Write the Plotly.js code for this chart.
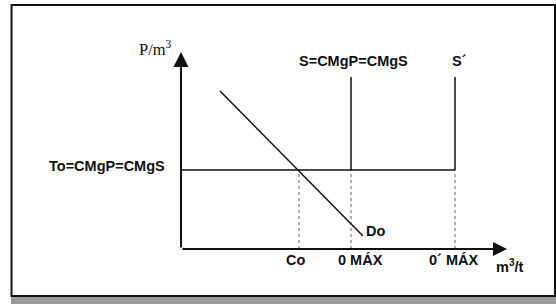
<!DOCTYPE html>
<html>
<head>
<meta charset="utf-8">
<script src="https://cdn.plot.ly/plotly-3.0.1.min.js"></script>
<style>html,body{margin:0;padding:0;background:#fff;}#chart{width:556px;height:304px;}</style>
</head>
<body>
<div id="chart"></div>
<script>
// ---- data ----
var qLabels = ['Co', '0 MÁX', '0´ MÁX'];
var qValues = [11.8, 17.0, 27.4];      // quantity positions
var tariff = 7.9;                        // To = CMgP = CMgS price level
var supplyTop = 17.2;                    // top of vertical supply lines
var demandQ = [3.9, 18.2];
var demandP = [15.8, 1.3];
var qAxisMax = 32.6;
var pAxisMax = 19.7;
var supplyLabels = ['S=CMgP=CMgS', 'S´'];
var tariffLabel = 'To=CMgP=CMgS';
var demandLabel = 'Do';
var yTitle = 'P/m<sup>3</sup>';
var xTitle = 'm<sup>3</sup>/t';

var ink = '#111111';
var boldFont = {family: 'Liberation Sans, Arial, sans-serif', size: 14.5, color: ink, weight: 'bold'};

var traces = [];
// dotted drop lines
qValues.forEach(function (q) {
  traces.push({x: [q, q], y: [0, tariff], mode: 'lines', line: {color: '#666', width: 1, dash: 'dot'}, hoverinfo: 'skip'});
});
// horizontal To line
traces.push({x: [0, qValues[2]], y: [tariff, tariff], mode: 'lines', line: {color: ink, width: 1.5}, hoverinfo: 'skip'});
// vertical supply lines S and S'
[qValues[1], qValues[2]].forEach(function (q) {
  traces.push({x: [q, q], y: [tariff, supplyTop], mode: 'lines', line: {color: ink, width: 1.5}, hoverinfo: 'skip'});
});
// demand
traces.push({x: demandQ, y: demandP, mode: 'lines', line: {color: ink, width: 1.5}, hoverinfo: 'skip'});

var annotations = [
  // axes with arrowheads
  {x: 0, y: pAxisMax, ax: 0, ay: 0, xref: 'x', yref: 'y', axref: 'x', ayref: 'y', text: '', showarrow: true, arrowhead: 2, arrowsize: 1.5, arrowwidth: 2, arrowcolor: ink, standoff: 0, startstandoff: 0},
  {x: qAxisMax, y: 0, ax: 0, ay: 0, xref: 'x', yref: 'y', axref: 'x', ayref: 'y', text: '', showarrow: true, arrowhead: 2, arrowsize: 1.4, arrowwidth: 2, arrowcolor: ink, standoff: 0, startstandoff: 0},
  // texts
  {x: -0.7, y: 20.1, text: yTitle, showarrow: false, xanchor: 'right', yanchor: 'middle', font: {family: 'Liberation Serif, Times New Roman, serif', size: 16.5, color: ink}},
  {x: 31.3, y: -1.7, text: xTitle, showarrow: false, xanchor: 'left', yanchor: 'middle', font: boldFont},
  {x: 17.2, y: 18.8, text: supplyLabels[0], showarrow: false, xanchor: 'center', yanchor: 'middle', font: boldFont},
  {x: 26.9, y: 18.8, text: supplyLabels[1], showarrow: false, xanchor: 'left', yanchor: 'middle', font: boldFont},
  {x: -1.4, y: 8.3, text: tariffLabel, showarrow: false, xanchor: 'right', yanchor: 'middle', font: boldFont},
  {x: 18.3, y: 1.8, text: demandLabel, showarrow: false, xanchor: 'left', yanchor: 'middle', font: boldFont}
];
var qLabelX = [11.4, 17.9, 27.2];
qLabels.forEach(function (t, i) {
  annotations.push({x: qLabelX[i], y: -1.05, text: t, showarrow: false, xanchor: 'center', yanchor: 'middle', font: boldFont});
});

var layout = {
  width: 556, height: 304,
  margin: {l: 0, r: 0, t: 0, b: 0},
  paper_bgcolor: '#ffffff', plot_bgcolor: 'rgba(0,0,0,0)',
  showlegend: false,
  xaxis: {range: [-18.1, 37.5], visible: false, fixedrange: true},
  yaxis: {range: [-5.5, 24.9], visible: false, fixedrange: true},
  annotations: annotations,
  shapes: [
    {type: 'rect', xref: 'paper', yref: 'paper', x0: 11 / 556, x1: 1, y0: 0, y1: 7 / 304, fillcolor: '#9a9a9a', line: {width: 0}, layer: 'below'},
    {type: 'rect', xref: 'paper', yref: 'paper', x0: 11.5 / 556, x1: 555 / 556, y0: 1 - 296 / 304, y1: 1 - 5 / 304, fillcolor: 'rgba(0,0,0,0)', line: {color: '#111', width: 2}, layer: 'below'}
  ]
};

Plotly.newPlot('chart', traces, layout, {staticPlot: true, displayModeBar: false});
</script>
</body>
</html>
